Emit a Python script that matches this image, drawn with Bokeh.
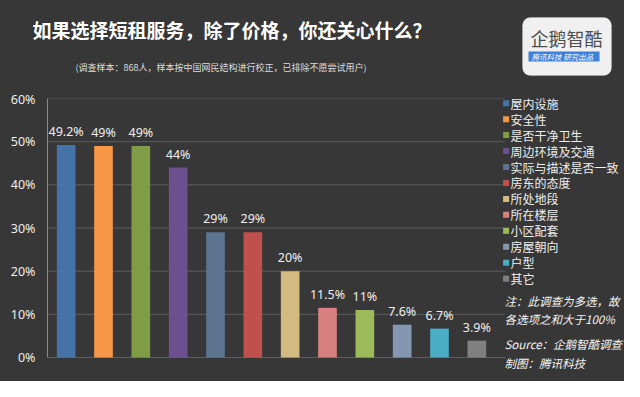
from bokeh.plotting import figure
from bokeh.layouts import column
from bokeh.models import (ColumnDataSource, Label, BoxAnnotation, Range1d,
                          FixedTicker, PrintfTickFormatter)
from bokeh.embed import file_html
from bokeh.resources import INLINE
from bokeh.core.properties import value

# ---------------- data ----------------
categories = ["屋内设施", "安全性", "是否干净卫生", "周边环境及交通", "实际与描述是否一致",
              "房东的态度", "所处地段", "所在楼层", "小区配套", "房屋朝向", "户型", "其它"]
values = [49.2, 49, 49, 44, 29, 29, 20, 11.5, 11, 7.6, 6.7, 3.9]
value_labels = ["49.2%", "49%", "49%", "44%", "29%", "29%", "20%", "11.5%", "11%", "7.6%", "6.7%", "3.9%"]
colors = ["#4572A7", "#F79646", "#7E9D45", "#6C4F8F", "#5D7590", "#C0504D",
          "#D2BA80", "#D98080", "#9BBB59", "#8497B0", "#4BACC6", "#808080"]
y_ticks = [0, 10, 20, 30, 40, 50, 60]

title_text = "如果选择短租服务，除了价格，你还关心什么？"
subtitle_text = "(调查样本：868人，样本按中国网民结构进行校正，已排除不愿尝试用户)"
logo_text = "企鹅智酷"
logo_sub = "腾讯科技   研究出品"
notes = ["注：此调查为多选，故", "各选项之和大于100%", "Source：企鹅智酷调查", "制图：腾讯科技"]

# ---------------- layout ----------------
W = 624
TOP_H = 90
MID_H = 291
BG = "#373737"
CJK = "Noto Sans CJK SC"
BG_STYLE = {"background-color": BG}

ML, MT = 47, 8                    # chart borders (left / top)
FRAME_W_BARS = 448                # width occupied by the 12 bar slots
FRAME_H_BARS = 259                # height of 0..60 %
XPU = FRAME_W_BARS / 12.0         # px per category slot
YPU = FRAME_H_BARS / 60.0         # px per percent
X_START = -0.5
X_END = X_START + (W - ML) / XPU
Y_END = 60
Y_START = Y_END - (MID_H - MT) / YPU
ZERO_Y = TOP_H + MT + FRAME_H_BARS   # page y of the 0 % line


def cx(px):
    return X_START + (px - ML) / XPU


def cy(py):
    return (ZERO_Y - py) / YPU


# ---------- top: title, subtitle, logo ----------
T = figure(width=W, height=TOP_H, x_range=Range1d(0, W), y_range=Range1d(TOP_H, 0),
           output_backend="svg", toolbar_location=None, title=None, frame_align=False,
           min_border=0, background_fill_color=BG, border_fill_color=BG,
           outline_line_color=None, styles=BG_STYLE)
T.axis.visible = False
T.grid.visible = False
T.add_layout(Label(x=32, y=29, text=title_text, text_font=CJK, text_font_style="bold",
                   text_font_size="19px", text_color="#ffffff", text_baseline="middle",
                   text_align="left"))
T.add_layout(Label(x=75, y=67, text=subtitle_text, text_font=CJK,
                   text_font_size="9px", text_color="#dddddd", text_baseline="middle",
                   text_align="left"))
T.add_layout(BoxAnnotation(left=522, right=611, top=17, bottom=75,
                           fill_color="#f0f0f0", fill_alpha=1, line_color="#d0d0d0",
                           border_radius=8))
T.add_layout(Label(x=566, y=37, text=logo_text, text_font=CJK,
                   text_font_size="18px", text_color="#4d4d4d", text_baseline="middle",
                   text_align="center"))
T.add_layout(BoxAnnotation(left=528, right=599, top=51, bottom=61,
                           fill_color="#3d7fd9", fill_alpha=1, line_color=None))
T.add_layout(Label(x=563.5, y=56, text=logo_sub, text_font=CJK,
                   text_font_size="7.5px", text_font_style="italic", text_color="#ffffff",
                   text_baseline="middle", text_align="center"))

# ---------- chart + legend + notes ----------
C = figure(width=W, height=MID_H, x_range=Range1d(X_START, X_END), y_range=Range1d(Y_START, Y_END),
           output_backend="svg", toolbar_location=None, title=None, frame_align=False,
           min_border_left=ML, min_border_right=0, min_border_top=MT, min_border_bottom=0,
           background_fill_color=BG, border_fill_color=BG, outline_line_color=None,
           styles=BG_STYLE)

# horizontal grid lines, only across the bar area
C.segment(x0=X_START, x1=11.75, y0=y_ticks, y1=y_ticks, line_color="#5e5e5e", line_width=1)

xs = list(range(len(categories)))
src = ColumnDataSource(dict(x=xs, top=values, color=colors, lab=value_labels))
C.vbar(x="x", top="top", width=0.5, color="color", source=src, line_color=None)
C.text(x="x", y="top", text="lab", source=src, y_offset=-5, text_align="center",
       text_baseline="bottom", text_color="#eeeeee", text_font_size="12.5px",
       text_font=value("Noto Sans"))

C.xaxis.visible = False
C.xgrid.visible = False
C.ygrid.visible = False
C.yaxis.bounds = (0, 60)
C.yaxis.ticker = FixedTicker(ticks=y_ticks)
C.yaxis.formatter = PrintfTickFormatter(format="%d%%")
C.yaxis.major_label_text_color = "#eeeeee"
C.yaxis.major_label_text_font = "Noto Sans"
C.yaxis.major_label_text_font_size = "12.5px"
C.yaxis.major_tick_out = 0
C.yaxis.major_tick_in = 0
C.yaxis.minor_tick_out = 0
C.yaxis.minor_tick_in = 0
C.yaxis.major_label_standoff = 12
C.yaxis.axis_line_color = "#8a8a8a"

# legend (square swatch + label per category)
n = len(categories)
leg_src = ColumnDataSource(dict(x=[cx(505.6)] * n, y=[cy(102.7 + i * 15.95) for i in range(n)],
                                tx=[cx(510)] * n, color=colors, cat=categories))
C.scatter(x="x", y="y", marker="square", size=6, color="color", line_color=None, source=leg_src)
C.text(x="tx", y="y", text="cat", source=leg_src, text_font=value(CJK), text_font_size="12px",
       text_color="#eeeeee", text_baseline="middle", text_align="left")

# notes
for t, py in zip(notes, [300.5, 318.7, 343.7, 362]):
    C.add_layout(Label(x=cx(504), y=cy(py), text=t, text_font=CJK, text_font_style="italic",
                       text_font_size="11.5px", text_color="#f5f5f5", text_baseline="middle",
                       text_align="left"))

layout = column(T, C, spacing=0, styles=BG_STYLE)
open("out.html", "w").write(file_html(layout, INLINE))
